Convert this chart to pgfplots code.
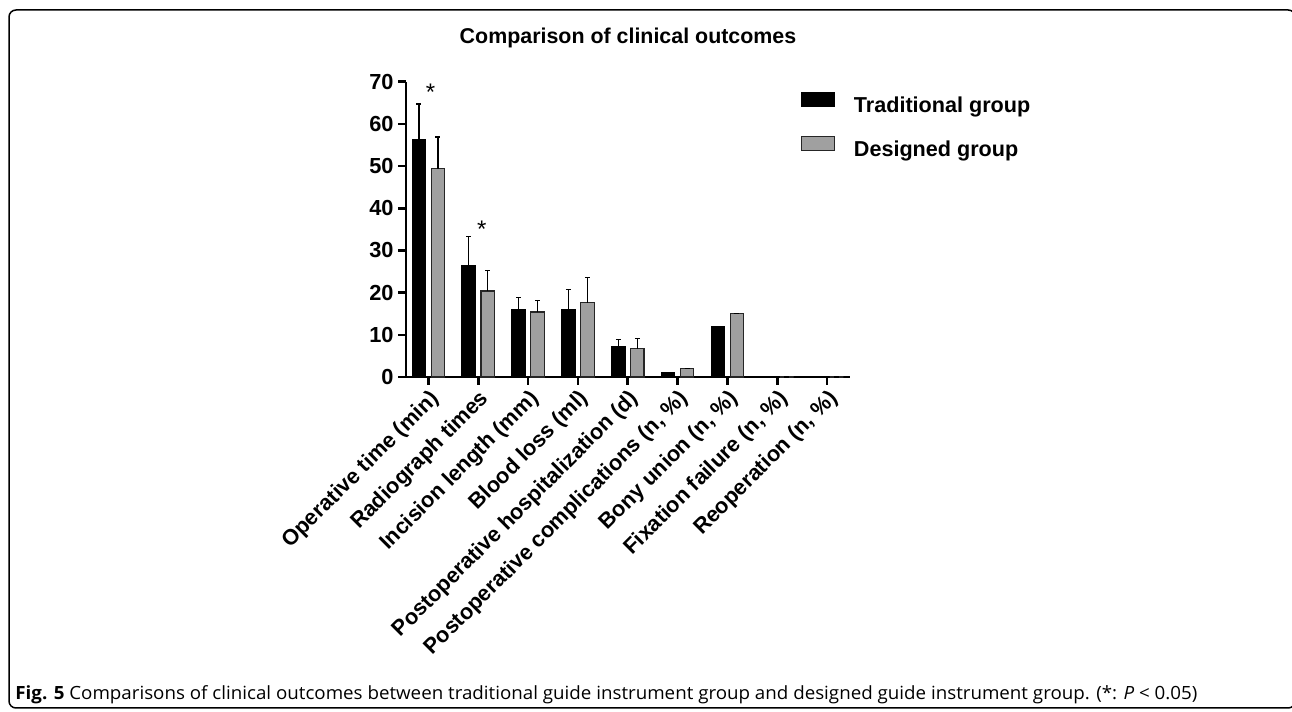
\documentclass[border=0pt]{standalone}
\usepackage{fontspec}
\setmainfont{Liberation Sans}
\newfontfamily\capfont{Open Sans}
\usepackage{graphicx}
\usepackage{pgfplots}
\usepackage{pgfplotstable}
\pgfplotsset{compat=1.18}

\pgfplotstableread{
x y e
0 56.3 8.4
1 26.3 7.0
2 16.0 2.9
3 16.0 4.8
4 7.1 1.8
5 1.0 0
6 12.0 0
7 0 0
8 0 0
}\trad
\pgfplotstableread{
x y e
0 49.4 7.5
1 20.4 4.9
2 15.4 2.8
3 17.6 6.0
4 6.7 2.4
5 2.0 0
6 15.0 0
7 0 0
8 0 0
}\desg

\definecolor{bargray}{RGB}{160,160,160}

\begin{document}
\begin{tikzpicture}[x=1pt,y=1pt]
\useasboundingbox (0,0) rectangle (646,356);
\draw[line width=0.75pt, rounded corners=3.5pt] (4.5,2) rectangle (647.6,351);
\node[anchor=base, inner sep=0pt, font=\fontsize{10.7}{12}\selectfont\bfseries] at (314,334) {Comparison of clinical outcomes};
\begin{axis}[
  at={(203pt,167.5pt)}, anchor=south west,
  scale only axis, width=222pt, height=147.65pt,
  xmin=-0.45, xmax=8.46, ymin=0, ymax=70,
  axis lines*=left,
  axis line style={line width=1.3pt},
  xtick={0,...,8}, ytick={0,10,...,70},
  xticklabels={Operative time (min), Radiograph times, Incision length (mm), Blood loss (ml), Postoperative hospitalization (d), {Postoperative complications (n, \%)}, {Bony union (n, \%)}, {Fixation failure (n, \%)}, {Reoperation (n, \%)}},
  tick align=outside, major tick length=4pt,
  tick style={line width=1.3pt, black},
  ticklabel style={font=\fontsize{10.9}{12}\selectfont\bfseries},
  x tick label style={rotate=45, anchor=north east, inner sep=1pt},
  y tick label style={inner sep=2pt},
  /pgf/number format/assume math mode=true,
  ybar, bar width=6.75pt,
  clip=false,
  legend style={draw=none, fill=none, at={(rel axis cs:0.889,0.966)}, anchor=north west,
    inner sep=0pt, nodes={inner sep=0pt}, row sep=10.3pt,
    font=\fontsize{10.8}{12}\selectfont\bfseries,
    /tikz/every odd column/.append style={column sep=9.5pt}},
  legend cell align=left,
  legend image code/.code={\draw[#1] (0pt,0pt) rectangle (16.3pt,6.8pt);},
]
\addplot[fill=black, draw=black, line width=0.6pt, bar shift=-4.75pt,
  error bars/.cd, y dir=plus, y explicit,
  error bar style={line width=0.6pt, black},
  error mark options={rotate=90, mark size=1.25pt, line width=0.6pt, black}]
  table[x=x, y=y, y error=e] {\trad};
\addlegendentry{Traditional group}
\addplot[fill=bargray, draw=black!85, line width=0.6pt, bar shift=4.75pt,
  error bars/.cd, y dir=plus, y explicit,
  error bar style={line width=0.6pt, black},
  error mark options={rotate=90, mark size=1.25pt, line width=0.6pt, black}]
  table[x=x, y=y, y error=e] {\desg};
\addlegendentry{Designed group}
\node[anchor=north, inner sep=0pt, font=\fontsize{12}{12}\selectfont] at (axis cs:0.044,69.6) {*};
\node[anchor=north, inner sep=0pt, font=\fontsize{12}{12}\selectfont] at (axis cs:1.07,37.0) {*};
\end{axis}
\node[anchor=base west, inner sep=0pt] at (7.5,6) {\resizebox{591pt}{\height}{\capfont\fontsize{9.1}{11}\selectfont\textbf{Fig. 5} Comparisons of clinical outcomes between traditional guide instrument group and designed guide instrument group. (*: \textit{P} {\textless} 0.05)}};
\end{tikzpicture}
\end{document}
